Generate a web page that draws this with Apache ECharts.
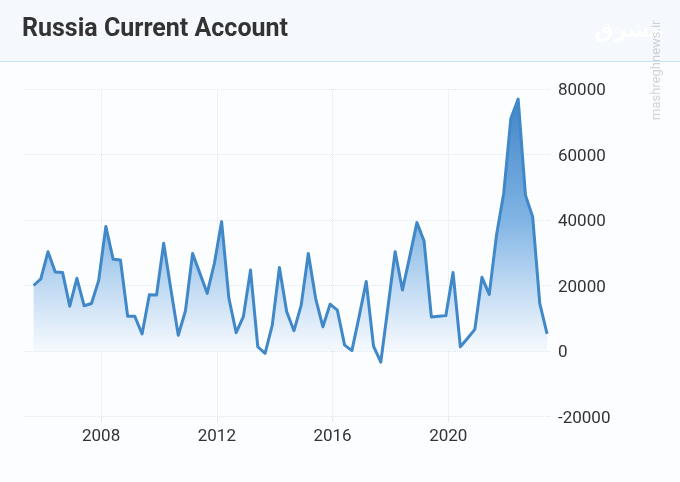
<!DOCTYPE html>
<html><head><meta charset="utf-8">
<style>html,body{margin:0;padding:0;background:#fbfdff}#c{width:680px;height:482px}</style>
<script src="https://cdn.jsdelivr.net/npm/echarts@6/dist/echarts.min.js"></script>
</head><body><div id="c"></div>
<script>
const title = "Russia Current Account";
const yearTicks = ["2008-01-01","2012-01-01","2016-01-01","2020-01-01"];
const dates = [
"2005-09-01","2005-12-01",
"2006-03-01","2006-06-01","2006-09-01","2006-12-01",
"2007-03-01","2007-06-01","2007-09-01","2007-12-01",
"2008-03-01","2008-06-01","2008-09-01","2008-12-01",
"2009-03-01","2009-06-01","2009-09-01","2009-12-01",
"2010-03-01","2010-06-01","2010-09-01","2010-12-01",
"2011-03-01","2011-06-01","2011-09-01","2011-12-01",
"2012-03-01","2012-06-01","2012-09-01","2012-12-01",
"2013-03-01","2013-06-01","2013-09-01","2013-12-01",
"2014-03-01","2014-06-01","2014-09-01","2014-12-01",
"2015-03-01","2015-06-01","2015-09-01","2015-12-01",
"2016-03-01","2016-06-01","2016-09-01","2016-12-01",
"2017-03-01","2017-06-01","2017-09-01","2017-12-01",
"2018-03-01","2018-06-01","2018-09-01","2018-12-01",
"2019-03-01","2019-06-01","2019-09-01","2019-12-01",
"2020-03-01","2020-06-01","2020-09-01","2020-12-01",
"2021-03-01","2021-06-01","2021-09-01","2021-12-01",
"2022-03-01","2022-06-01","2022-09-01","2022-12-01",
"2023-03-01","2023-06-01"];
const values = [
20000,22000,
30300,24100,24000,13700,
22200,13800,14500,21500,
38000,28000,27800,10600,
10600,5200,17200,17100,
32900,18600,4800,12300,
29800,23700,17600,26800,
39500,16100,5600,10500,
24700,1300,-700,7900,
25500,12000,6200,14000,
29800,16100,7400,14300,
12500,1800,100,10500,
21200,1500,-3400,13500,
30300,18600,28800,39200,
33600,10400,10600,10800,
24000,1300,3900,6600,
22500,17300,35400,48200,
71000,76900,47600,41000,
14500,5200];

const chart = echarts.init(document.getElementById('c'), null, {renderer:'canvas'});
const font = 'Roboto, sans-serif';
const tickStamps = yearTicks.map(d => +new Date(d + 'T00:00:00Z'));
chart.setOption({
  animation:false,
  backgroundColor:'#fbfdff',
  title:{text:title,left:22,top:17,padding:0,textStyle:{fontFamily:font,fontSize:25,fontWeight:700,color:'#333333'}},
  grid:{left:25,right:130,top:89,bottom:65.5},
  graphic:[
    {type:'rect',z:-1,silent:true,shape:{x:0,y:0,width:680,height:61},style:{fill:'#f5f8fd'}},
    {type:'rect',z:-1,silent:true,shape:{x:0,y:61,width:680,height:1},style:{fill:'#cbe2f3'}},
    {type:'text',z:10,silent:true,x:629,y:31,style:{text:'مشرق',align:'center',verticalAlign:'middle',fontFamily:'"Noto Sans", "DejaVu Sans", sans-serif',fontSize:22,fontWeight:700,fill:'#ffffff',shadowColor:'rgba(90,90,90,0.75)',shadowBlur:3,shadowOffsetX:1,shadowOffsetY:2}},
    {type:'text',z:10,silent:true,x:657,y:120,rotation:Math.PI/2,style:{text:'mashreghnews.ir',fontFamily:font,fontSize:13,fill:'rgba(150,150,150,0.42)',align:'left',verticalAlign:'middle'}}
  ],
  xAxis:{
    type:'time',
    min:'2005-05-15',max:'2023-07-08',
    axisLine:{show:false,onZero:false},
    axisTick:{show:true,length:5,customValues:tickStamps,lineStyle:{color:'#cdd8e3',type:'dotted'}},
    axisLabel:{show:true,customValues:tickStamps,formatter:'{yyyy}',margin:12,fontFamily:font,fontSize:17,color:'#333333',hideOverlap:false},
    splitLine:{show:true,lineStyle:{color:'#dfe8f0',type:'dotted',width:1}}
  },
  yAxis:{
    type:'value',position:'right',min:-20000,max:80000,interval:20000,
    axisLine:{show:false},axisTick:{show:false},
    axisLabel:{margin:8,fontFamily:font,fontSize:17,color:'#333333',formatter:function(v){return '{a|'+v+'}';},rich:{a:{fontFamily:font,fontSize:17,color:'#333333',padding:[4,0,0,0]}}},
    splitLine:{show:true,lineStyle:{color:'#dfe8f0',type:'dotted',width:1}}
  },
  series:[{
    type:'line',
    data:dates.map((d,i)=>[d,values[i]]),
    showSymbol:false,smooth:false,
    lineStyle:{color:'#4088c8',width:3,join:'round'},
    areaStyle:{origin:0,opacity:1,color:new echarts.graphic.LinearGradient(0,0,0,1,[
      {offset:0,color:'#4285c9'},
      {offset:0.45,color:'#7fb3e3'},
      {offset:0.72,color:'#c2dbf3'},
      {offset:0.92,color:'#eef5fc'},
      {offset:1,color:'#fbfdff'}
    ])}
  }]
});
</script></body></html>
